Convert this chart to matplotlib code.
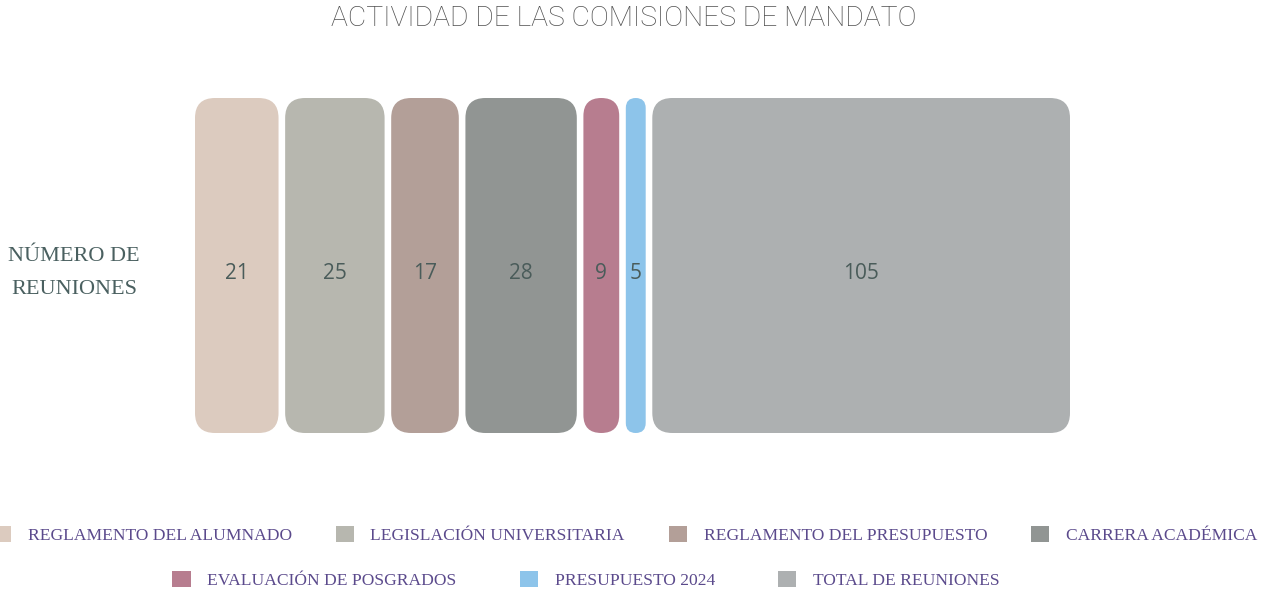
import matplotlib
matplotlib.use("Agg")
import matplotlib.pyplot as plt
from matplotlib.patches import FancyBboxPatch, Patch

# data
categories = ["REGLAMENTO DEL ALUMNADO", "LEGISLACIÓN UNIVERSITARIA",
              "REGLAMENTO DEL PRESUPUESTO", "CARRERA ACADÉMICA",
              "EVALUACIÓN DE POSGRADOS", "PRESUPUESTO 2024",
              "TOTAL DE REUNIONES"]
values = [21, 25, 17, 28, 9, 5, 105]
colors = ["#dccbbf", "#b7b7af", "#b39f98", "#919593",
          "#b77d8f", "#8dc4ea", "#adb0b1"]

W, H = 1267, 592
fig = plt.figure(figsize=(W / 100, H / 100), dpi=100)

# bar area in pixels
x0, x1 = 195, 1070
y_top, y_bot = 98, 433
ax = fig.add_axes([x0 / W, 1 - y_bot / H, (x1 - x0) / W, (y_bot - y_top) / H])

gap_px = 6.6
px_per_unit = (x1 - x0 - gap_px * (len(values) - 1)) / sum(values)
gap = gap_px / px_per_unit
total = sum(values) + gap * (len(values) - 1)
ax.set_xlim(0, total)
ax.set_ylim(0, 1)
ax.axis("off")

aspect = (1 / (y_bot - y_top)) / (total / (x1 - x0))
radius_px = 20

left = 0
for v, c in zip(values, colors):
    r = min(radius_px, v * px_per_unit / 2) / px_per_unit
    box = FancyBboxPatch((left, 0), v, 1,
                         boxstyle=f"round,pad=0,rounding_size={r}",
                         mutation_aspect=aspect, fc=c, ec="none")
    ax.add_patch(box)
    ax.text(left + v / 2, 0.477, str(v), ha="center", va="center",
            fontsize=15, color="#4a5c5a", family="Open Sans")
    left += v + gap

fig.text(624 / W, 1 - 19 / H, "ACTIVIDAD DE LAS COMISIONES DE MANDATO",
         ha="center", va="center", fontsize=20.3, color="#505050",
         family="Roboto", fontweight="light")

fig.text(74 / W, 1 - 273 / H, "NÚMERO DE\nREUNIONES", ha="center",
         va="center", fontsize=16, color="#4a6060", family="Liberation Serif",
         linespacing=2.05)

handles = [Patch(fc=c, ec="none") for c in colors]
leg_kw = dict(frameon=False, handlelength=1.05, handleheight=1.05,
              handletextpad=0.95, borderaxespad=0,
              prop={"family": "Liberation Serif", "size": 12.6})
leg1 = fig.legend(handles[:4], categories[:4], ncol=4, loc="center",
                  columnspacing=2.5, bbox_to_anchor=(625 / W, 1 - 535 / H),
                  **leg_kw)
leg2 = fig.legend(handles[4:], categories[4:], ncol=3, loc="center",
                  columnspacing=3.6, bbox_to_anchor=(586 / W, 1 - 580 / H),
                  **leg_kw)
for leg in (leg1, leg2):
    for t in leg.get_texts():
        t.set_color("#5b4a8c")

fig.savefig("out.png", dpi=100)
